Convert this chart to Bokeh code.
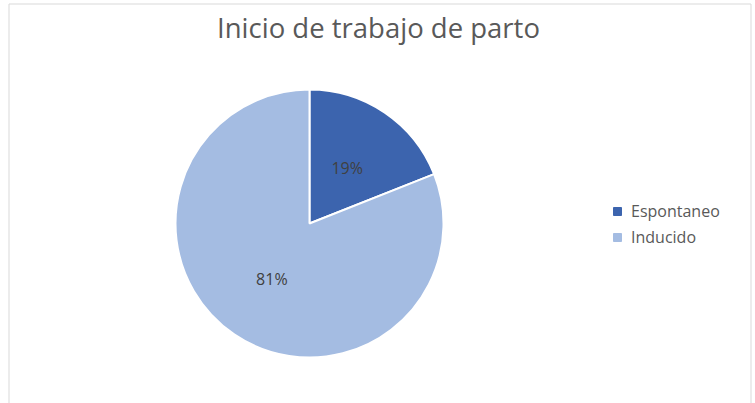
import numpy as np
from bokeh.plotting import figure
from bokeh.models import ColumnDataSource, Range1d, Legend, LegendItem
from bokeh.core.properties import value
from bokeh.embed import file_html
from bokeh.resources import INLINE

title_text = "Inicio de trabajo de parto"
categories = ["Espontaneo", "Inducido"]
shares = [19, 81]
labels = ["19%", "81%"]
colors = ["#3C64AE", "#A4BCE2"]

W, H = 755, 403
cx, cy, R = 309, H - 223, 134

p = figure(width=W, height=H, output_backend="svg", toolbar_location=None,
           x_range=Range1d(0, W), y_range=Range1d(0, H), min_border=0)
p.axis.visible = False
p.grid.visible = False
p.outline_line_color = None
p.background_fill_color = "white"
p.border_fill_color = "white"

# chart area frame (left, top, right sides)
p.segment(x0=[8.5, 8.5, 750.5], y0=[0, H - 3.5, 0], x1=[8.5, 750.5, 750.5],
          y1=[H - 3.5, H - 3.5, H - 3.5], line_color="#D9D9D9", line_width=1)

vals = np.array(shares, dtype=float)
frac = vals / vals.sum()
cum = np.concatenate([[0], np.cumsum(frac)])
end = np.pi / 2 - cum[:-1] * 2 * np.pi
start = np.pi / 2 - cum[1:] * 2 * np.pi
mid = (start + end) / 2

src = ColumnDataSource(dict(x=[cx] * len(categories), y=[cy] * len(categories),
                            start=start, end=end, color=colors, cat=categories))
p.wedge(x="x", y="y", radius=R, start_angle="start", end_angle="end",
        direction="anticlock", fill_color="color", line_color="white",
        line_width=2, source=src)

lsrc = ColumnDataSource(dict(x=cx + 0.5 * R * np.cos(mid), y=cy + 0.5 * R * np.sin(mid), t=labels))
p.text(x="x", y="y", text="t", source=lsrc, text_align="center", text_baseline="middle",
       text_font=value("Open Sans"), text_font_size="16px", text_color="#404040")

p.text(x=[378], y=[H - 27], text=[title_text], text_align="center", text_baseline="middle",
       text_font=value("Open Sans"), text_font_size="27.5px", text_color="#595959")

items = []
for c, col in zip(categories, colors):
    r = p.quad(left=[-1010], right=[-1000], bottom=[-1010], top=[-1000],
               fill_color=col, line_color=col)
    items.append(LegendItem(label=c, renderers=[r]))

legend = Legend(items=items, location=(612, 155), padding=0, margin=0, spacing=4,
                glyph_width=10, glyph_height=10, label_height=20, label_standoff=9,
                label_text_font="Open Sans", label_text_font_size="16px",
                label_text_color="#595959", border_line_color=None,
                background_fill_alpha=0)
p.add_layout(legend)

open("out.html", "w").write(file_html(p, INLINE))
